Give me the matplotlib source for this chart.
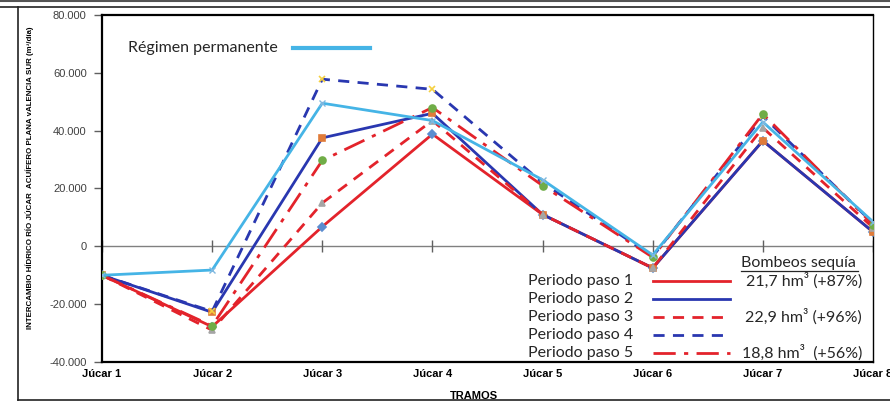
import matplotlib
matplotlib.use("Agg")
import matplotlib.pyplot as plt
from matplotlib.lines import Line2D

cats = ['Júcar 1', 'Júcar 2', 'Júcar 3', 'Júcar 4', 'Júcar 5', 'Júcar 6', 'Júcar 7', 'Júcar 8']
regimen = [-10000, -8200, 49500, 43500, 23000, -3000, 43000, 8500]
paso1 = [-10000, -27800, 6800, 38800, 11000, -7500, 36500, 5000]
paso2 = [-10000, -22800, 37500, 46000, 11000, -7500, 36500, 5000]
paso3 = [-10000, -29000, 15000, 43500, 11000, -7500, 41000, 6500]
paso4 = [-10000, -22500, 57800, 54300, 22000, -3500, 45000, 8000]
paso5 = [-10000, -27500, 29700, 48000, 21000, -3800, 45800, 7500]
yticks = [-40000, -20000, 0, 20000, 40000, 60000, 80000]
ytick_labels = ['-40.000', '-20.000', '0', '20.000', '40.000', '60.000', '80.000']
legend_names = ['Periodo paso 1', 'Periodo paso 2', 'Periodo paso 3', 'Periodo paso 4', 'Periodo paso 5']
legend_notes = ['21,7 hm³ (+87%)', '', '22,9 hm³ (+96%)', '', '18,8 hm³  (+56%)']

W, H = 890, 401
fig = plt.figure(figsize=(W/100, H/100), dpi=100)
ax = fig.add_axes([102/W, 1-362/H, (873-102)/W, (362-15)/H])

RED = '#E3232B'
BLUE = '#2937B0'
LBLUE = '#45B4E6'

x = list(range(len(cats)))
ax.axhline(0, color='#808080', lw=1.0, zorder=1)
ax.plot(x, [0]*len(x), ls='none', marker='|', ms=8, mew=1.0, color='#606060', zorder=1)

series = [
    (paso1, RED, '-', 'D', '#5B8DD0', 4),
    (paso2, BLUE, '-', 's', '#E07B39', 5),
    (paso3, RED, (0, (4, 3)), '^', '#A5A5A5', 5),
    (paso4, BLUE, (0, (4, 3)), 'x', '#F5D040', 5),
    (paso5, RED, (0, (8, 3, 1.5, 3)), 'o', '#70AD47', 5),
]
for vals, col, ls, mk, mc, ms in series:
    ax.plot(x, vals, color=col, ls=ls, lw=2.0, zorder=3,
            marker=mk, ms=ms, mfc=mc, mec=mc, mew=1.2)
ax.plot(x, regimen, color=LBLUE, lw=2.0, zorder=4, marker='x', ms=5,
        mec='#7FB8E0', mew=1.0)

ax.set_xlim(0, len(cats)-1)
ax.set_ylim(-40000, 80000)
ax.set_yticks(yticks)
ax.set_yticklabels(ytick_labels, fontsize=8, color='#404040', family='Liberation Sans')
ax.set_xticks(x)
ax.set_xticklabels(cats, fontsize=8, fontweight='bold', family='Liberation Sans')
ax.tick_params(axis='x', length=0, pad=5)
ax.tick_params(axis='y', length=6, width=1, color='#606060', pad=5)
for t in ax.get_xticklabels():
    t.set_clip_on(False)
for s in ['left', 'bottom', 'top']:
    ax.spines[s].set_linewidth(1.6)
ax.spines['right'].set_linewidth(1.0)

ax.set_ylabel('INTERCAMBIO HÍDRICO RÍO JÚCAR  ACUÍFERO PLANA vALENCIA SUR (m³/día)',
              fontsize=5.7, fontweight='bold', family=['Liberation Sans Narrow', 'Liberation Sans'])
ax.yaxis.set_label_coords(-0.088, 0.53)
fig.text(474/W, 1-396/H, 'TRAMOS', fontsize=8, fontweight='bold', family='Liberation Sans',
         ha='center', va='center')

def fx(px):
    return px / W

def fy(py):
    return 1 - py / H

LF = ['Lato', 'DejaVu Sans']
TC = '#262626'
fig.text(fx(128), fy(48), 'Régimen permanente', fontsize=11.5, family=LF, va='center', color=TC)
fig.add_artist(Line2D([fx(293), fx(370)], [fy(48), fy(48)], color=LBLUE, lw=3))

fig.text(fx(741), fy(263), 'Bombeos sequía', fontsize=11.5, family=LF, va='center', color=TC)
fig.add_artist(Line2D([fx(741), fx(858)], [fy(271), fy(271)], color=TC, lw=0.9))

rows = [281, 299, 317, 335, 353]
for i, (vals, col, ls, mk, mc, ms) in enumerate(series):
    yy = rows[i]
    fig.text(fx(633), fy(yy), legend_names[i], fontsize=11.5, family=LF, ha='right', va='center', color=TC)
    fig.add_artist(Line2D([fx(653), fx(730)], [fy(yy), fy(yy)], color=col, ls=ls, lw=2.0))
    if legend_notes[i]:
        fig.text(fx(862), fy(yy), legend_notes[i], fontsize=11.5, family=LF, ha='right', va='center', color=TC)

# outer frame
fig.add_artist(Line2D([0, 1], [fy(1), fy(1)], color='#555555', lw=1.5))
fig.add_artist(Line2D([0, 1], [fy(7), fy(7)], color='#222222', lw=1.2))
fig.add_artist(Line2D([fx(18), fx(18)], [fy(7), fy(400)], color='#222222', lw=1.2))
fig.add_artist(Line2D([fx(18), 1], [fy(400), fy(400)], color='#222222', lw=1.2))

fig.savefig('out.png', dpi=100)
